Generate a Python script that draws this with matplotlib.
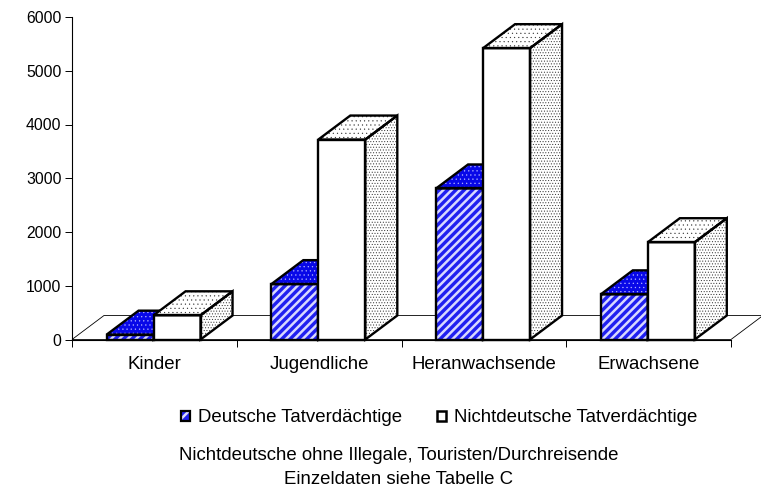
import numpy as np
import matplotlib
matplotlib.use("Agg")
import matplotlib.pyplot as plt
from matplotlib.patches import Polygon, Patch
from matplotlib.legend_handler import HandlerTuple

plt.rcParams['font.family'] = ['Liberation Sans', 'DejaVu Sans']

kategorien = ["Kinder", "Jugendliche", "Heranwachsende", "Erwachsene"]
deutsche = [90, 1030, 2810, 840]
nichtdeutsche = [450, 3720, 5420, 1810]
y_ticks = [0, 1000, 2000, 3000, 4000, 5000, 6000]

W, H = 761, 488
fig = plt.figure(figsize=(W / 100, H / 100), dpi=100)
# Achse in Pixeln der Vorlage
ax = fig.add_axes([72 / W, 1 - 339.5 / H, (731 - 72) / W, (339.5 - 17) / H])
ax.set_xlim(0, 4)
ax.set_ylim(0, 6000)

# Tiefe der 3D-Saeulen
dx = 32 / 164.75
dy = 24 / 322.5 * 6000
breite = 47 / 164.75


def flaeche(punkte, stil, z):
    farbe, hatch_farbe, hatch, hatch_lw = stil
    plt.rcParams['hatch.linewidth'] = hatch_lw
    ax.add_patch(Polygon(punkte, closed=True, facecolor=farbe, edgecolor=hatch_farbe,
                         hatch=hatch, linewidth=0, clip_on=False, zorder=z))
    ax.add_patch(Polygon(punkte, closed=True, fill=False, edgecolor='k', linewidth=1.7,
                         joinstyle='miter', clip_on=False, zorder=z + 0.1))


def saeule(x, wert, front, dach, seite, z):
    b = breite
    flaeche([(x + b, 0), (x + b + dx, dy), (x + b + dx, wert + dy), (x + b, wert)], seite, z)
    flaeche([(x, wert), (x + dx, wert + dy), (x + b + dx, wert + dy), (x + b, wert)], dach, z)
    flaeche([(x, 0), (x + b, 0), (x + b, wert), (x, wert)], front, z)


# Boden
ax.add_patch(Polygon([(0, 0), (dx, dy), (4 + dx, dy), (4, 0)], closed=True, fill=False,
                     edgecolor='k', linewidth=0.6, clip_on=False, zorder=1))

blau_front = ('#2020f0', '#d8d8ff', '////', 1.8)
blau_punkte = ('#0808e8', '#b0b0ff', '....', 0.4)
weiss_front = ('white', 'white', None, 0.5)
weiss_dach = ('white', '#333333', '....', 0.3)
weiss_seite = ('white', '#333333', '......', 0.4)

for i in range(len(kategorien)):
    x0 = i + 0.5 - breite - 0.005
    saeule(x0, deutsche[i], blau_front, blau_punkte, blau_punkte, 2 + i)
    saeule(x0 + breite, nichtdeutsche[i], weiss_front, weiss_dach, weiss_seite, 2.5 + i)

for s in ['top', 'right']:
    ax.spines[s].set_visible(False)
for s in ['left', 'bottom']:
    ax.spines[s].set_linewidth(0.8)
    ax.spines[s].set_zorder(1.5)

ax.set_yticks(y_ticks)
ax.set_xticks(range(5))
ax.set_xticklabels([])
ax.set_xticks(np.arange(len(kategorien)) + 0.5, labels=kategorien, minor=True)
ax.tick_params(axis='x', which='minor', length=0, pad=12, labelsize=13.4)
ax.tick_params(axis='x', which='major', length=5, width=0.7)
ax.tick_params(axis='y', length=5, width=0.7, pad=2.5, labelsize=11.3)
ax.patch.set_alpha(0)

plt.rcParams['hatch.linewidth'] = 1.8
griff_blau = (Patch(facecolor='#2020f0', edgecolor='#d8d8ff', hatch='//', linewidth=0),
              Patch(fill=False, edgecolor='k', linewidth=1.6))
griff_weiss = Patch(facecolor='white', edgecolor='k', linewidth=1.8)
fig.legend([griff_blau, griff_weiss], ["Deutsche Tatverdächtige", "Nichtdeutsche Tatverdächtige"],
           handler_map={tuple: HandlerTuple(ndivide=1, pad=0)}, frameon=False,
           loc='center', bbox_to_anchor=(439 / W, 1 - 418 / H), ncol=2, fontsize=13.4,
           handlelength=0.5, handleheight=0.5, handletextpad=0.4, columnspacing=1.9)

fig.text(399 / W, 1 - 456 / H, "Nichtdeutsche ohne Illegale, Touristen/Durchreisende",
         ha='center', va='center', fontsize=13.4)
fig.text(399 / W, 1 - 480 / H, "Einzeldaten siehe Tabelle C", ha='center', va='center', fontsize=13.4)

fig.savefig("out.png", dpi=100)
